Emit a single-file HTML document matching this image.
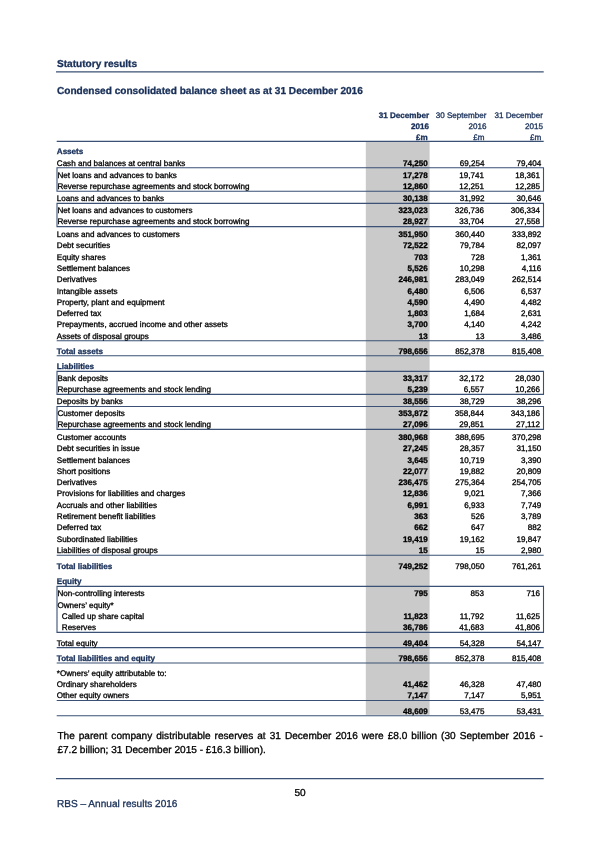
<!DOCTYPE html>
<html><head><meta charset="utf-8"><title>RBS – Annual results 2016</title>
<style>
html,body{margin:0;padding:0;background:#fff;}
body{width:600px;height:848px;position:relative;overflow:hidden;will-change:transform;text-rendering:geometricPrecision;font-family:"Liberation Sans",sans-serif;color:#000;}
.t{position:absolute;white-space:nowrap;font-size:8.09px;line-height:9px;height:9px;-webkit-text-stroke:0.30px #000;}
.l{left:56.8px;}
.r{text-align:right;left:0;}
.c1{width:427.7px;font-weight:bold;}
.c2{width:484.4px;}
.c3{width:541.3px;}
.n{color:#182f58;-webkit-text-stroke-color:#182f58;}
.b{font-weight:bold;}
svg{position:absolute;left:0;top:0;}
.h1{position:absolute;left:57.0px;font-size:10.08px;line-height:12px;height:12px;font-weight:bold;color:#182f58;white-space:nowrap;-webkit-text-stroke:0.30px #182f58;}
.p{position:absolute;left:57.4px;width:485.4px;font-size:10.08px;line-height:14px;text-align:justify;-webkit-text-stroke:0.30px #000;}
</style></head><body>
<div class="h1" style="top:59px">Statutory results</div>
<div class="h1" style="top:86px">Condensed consolidated balance sheet as at 31 December 2016</div>
<svg width="600" height="848" viewBox="0 0 600 848" shape-rendering="geometricPrecision"><rect x="365.8" y="141.4" width="63.8" height="573.5" fill="#cacaca"/><g stroke="#3a5075" stroke-width="1.10" fill="none">
<path d="M56.0 71.90H543.7"/>
<path d="M56.7 141.40H543.7"/>
<path d="M56.7 340.80H543.7"/>
<path d="M56.7 355.80H543.7"/>
<path d="M56.7 555.20H543.7"/>
<path d="M56.7 647.60H543.7"/>
<path d="M56.7 663.00H543.7"/>
<path d="M56.7 700.50H543.7"/>
<path d="M56.7 715.80H543.7"/>
<path d="M56.0 778.60H543.7"/>
<path d="M57.00 167.80H543.50V191.30H57.00Z"/>
<path d="M57.00 203.40H543.50V226.60H57.00Z"/>
<path d="M57.00 371.40H543.50V394.40H57.00Z"/>
<path d="M57.00 406.50H543.50V429.40H57.00Z"/>
<path d="M57.00 586.40H543.50V632.40H57.00Z"/>
</g></svg>
<div class="t r n b" style="top:111px;width:429.1px">31 December</div>
<div class="t r n" style="top:111px;width:486.5px">30 September</div>
<div class="t r n" style="top:111px;width:543.0px">31 December</div>
<div class="t r n b" style="top:122px;width:429.1px">2016</div>
<div class="t r n" style="top:122px;width:486.5px">2016</div>
<div class="t r n" style="top:122px;width:543.0px">2015</div>
<div class="t r n b" style="top:133px;width:427.7px">£m</div>
<div class="t r n" style="top:133px;width:484.4px">£m</div>
<div class="t r n" style="top:133px;width:541.3px">£m</div>
<div class="t l n b" style="top:147px;">Assets</div>
<div class="t l" style="top:159px;">Cash and balances at central banks</div>
<div class="t r c1" style="top:159px">74,250</div>
<div class="t r c2" style="top:159px">69,254</div>
<div class="t r c3" style="top:159px">79,404</div>
<div class="t l" style="top:171px;left:57.4px">Net loans and advances to banks</div>
<div class="t r c1" style="top:171px">17,278</div>
<div class="t r c2" style="top:171px;width:483.9px">19,741</div>
<div class="t r c3" style="top:171px;width:540.0px">18,361</div>
<div class="t l" style="top:182px;left:57.4px">Reverse repurchase agreements and stock borrowing</div>
<div class="t r c1" style="top:182px">12,860</div>
<div class="t r c2" style="top:182px;width:483.9px">12,251</div>
<div class="t r c3" style="top:182px;width:540.0px">12,285</div>
<div class="t l" style="top:194px;">Loans and advances to banks</div>
<div class="t r c1" style="top:194px">30,138</div>
<div class="t r c2" style="top:194px">31,992</div>
<div class="t r c3" style="top:194px">30,646</div>
<div class="t l" style="top:206px;left:57.4px">Net loans and advances to customers</div>
<div class="t r c1" style="top:206px">323,023</div>
<div class="t r c2" style="top:206px;width:483.9px">326,736</div>
<div class="t r c3" style="top:206px;width:540.0px">306,334</div>
<div class="t l" style="top:217px;left:57.4px">Reverse repurchase agreements and stock borrowing</div>
<div class="t r c1" style="top:217px">28,927</div>
<div class="t r c2" style="top:217px;width:483.9px">33,704</div>
<div class="t r c3" style="top:217px;width:540.0px">27,558</div>
<div class="t l" style="top:230px;">Loans and advances to customers</div>
<div class="t r c1" style="top:230px">351,950</div>
<div class="t r c2" style="top:230px">360,440</div>
<div class="t r c3" style="top:230px">333,892</div>
<div class="t l" style="top:241px;">Debt securities</div>
<div class="t r c1" style="top:241px">72,522</div>
<div class="t r c2" style="top:241px">79,784</div>
<div class="t r c3" style="top:241px">82,097</div>
<div class="t l" style="top:253px;">Equity shares</div>
<div class="t r c1" style="top:253px">703</div>
<div class="t r c2" style="top:253px">728</div>
<div class="t r c3" style="top:253px">1,361</div>
<div class="t l" style="top:264px;">Settlement balances</div>
<div class="t r c1" style="top:264px">5,526</div>
<div class="t r c2" style="top:264px">10,298</div>
<div class="t r c3" style="top:264px">4,116</div>
<div class="t l" style="top:275px;">Derivatives</div>
<div class="t r c1" style="top:275px">246,981</div>
<div class="t r c2" style="top:275px">283,049</div>
<div class="t r c3" style="top:275px">262,514</div>
<div class="t l" style="top:287px;">Intangible assets</div>
<div class="t r c1" style="top:287px">6,480</div>
<div class="t r c2" style="top:287px">6,506</div>
<div class="t r c3" style="top:287px">6,537</div>
<div class="t l" style="top:298px;">Property, plant and equipment</div>
<div class="t r c1" style="top:298px">4,590</div>
<div class="t r c2" style="top:298px">4,490</div>
<div class="t r c3" style="top:298px">4,482</div>
<div class="t l" style="top:309px;">Deferred tax</div>
<div class="t r c1" style="top:309px">1,803</div>
<div class="t r c2" style="top:309px">1,684</div>
<div class="t r c3" style="top:309px">2,631</div>
<div class="t l" style="top:320px;">Prepayments, accrued income and other assets</div>
<div class="t r c1" style="top:320px">3,700</div>
<div class="t r c2" style="top:320px">4,140</div>
<div class="t r c3" style="top:320px">4,242</div>
<div class="t l" style="top:332px;">Assets of disposal groups</div>
<div class="t r c1" style="top:332px">13</div>
<div class="t r c2" style="top:332px">13</div>
<div class="t r c3" style="top:332px">3,486</div>
<div class="t l n b" style="top:347px;">Total assets</div>
<div class="t r c1" style="top:347px">798,656</div>
<div class="t r c2" style="top:347px">852,378</div>
<div class="t r c3" style="top:347px">815,408</div>
<div class="t l n b" style="top:362px;">Liabilities</div>
<div class="t l" style="top:374px;left:57.4px">Bank deposits</div>
<div class="t r c1" style="top:374px">33,317</div>
<div class="t r c2" style="top:374px;width:483.9px">32,172</div>
<div class="t r c3" style="top:374px;width:540.0px">28,030</div>
<div class="t l" style="top:385px;left:57.4px">Repurchase agreements and stock lending</div>
<div class="t r c1" style="top:385px">5,239</div>
<div class="t r c2" style="top:385px;width:483.9px">6,557</div>
<div class="t r c3" style="top:385px;width:540.0px">10,266</div>
<div class="t l" style="top:397px;">Deposits by banks</div>
<div class="t r c1" style="top:397px">38,556</div>
<div class="t r c2" style="top:397px">38,729</div>
<div class="t r c3" style="top:397px">38,296</div>
<div class="t l" style="top:409px;left:57.4px">Customer deposits</div>
<div class="t r c1" style="top:409px">353,872</div>
<div class="t r c2" style="top:409px;width:483.9px">358,844</div>
<div class="t r c3" style="top:409px;width:540.0px">343,186</div>
<div class="t l" style="top:420px;left:57.4px">Repurchase agreements and stock lending</div>
<div class="t r c1" style="top:420px">27,096</div>
<div class="t r c2" style="top:420px;width:483.9px">29,851</div>
<div class="t r c3" style="top:420px;width:540.0px">27,112</div>
<div class="t l" style="top:433px;">Customer accounts</div>
<div class="t r c1" style="top:433px">380,968</div>
<div class="t r c2" style="top:433px">388,695</div>
<div class="t r c3" style="top:433px">370,298</div>
<div class="t l" style="top:444px;">Debt securities in issue</div>
<div class="t r c1" style="top:444px">27,245</div>
<div class="t r c2" style="top:444px">28,357</div>
<div class="t r c3" style="top:444px">31,150</div>
<div class="t l" style="top:456px;">Settlement balances</div>
<div class="t r c1" style="top:456px">3,645</div>
<div class="t r c2" style="top:456px">10,719</div>
<div class="t r c3" style="top:456px">3,390</div>
<div class="t l" style="top:467px;">Short positions</div>
<div class="t r c1" style="top:467px">22,077</div>
<div class="t r c2" style="top:467px">19,882</div>
<div class="t r c3" style="top:467px">20,809</div>
<div class="t l" style="top:478px;">Derivatives</div>
<div class="t r c1" style="top:478px">236,475</div>
<div class="t r c2" style="top:478px">275,364</div>
<div class="t r c3" style="top:478px">254,705</div>
<div class="t l" style="top:489px;">Provisions for liabilities and charges</div>
<div class="t r c1" style="top:489px">12,836</div>
<div class="t r c2" style="top:489px">9,021</div>
<div class="t r c3" style="top:489px">7,366</div>
<div class="t l" style="top:501px;">Accruals and other liabilities</div>
<div class="t r c1" style="top:501px">6,991</div>
<div class="t r c2" style="top:501px">6,933</div>
<div class="t r c3" style="top:501px">7,749</div>
<div class="t l" style="top:512px;">Retirement benefit liabilities</div>
<div class="t r c1" style="top:512px">363</div>
<div class="t r c2" style="top:512px">526</div>
<div class="t r c3" style="top:512px">3,789</div>
<div class="t l" style="top:523px;">Deferred tax</div>
<div class="t r c1" style="top:523px">662</div>
<div class="t r c2" style="top:523px">647</div>
<div class="t r c3" style="top:523px">882</div>
<div class="t l" style="top:535px;">Subordinated liabilities</div>
<div class="t r c1" style="top:535px">19,419</div>
<div class="t r c2" style="top:535px">19,162</div>
<div class="t r c3" style="top:535px">19,847</div>
<div class="t l" style="top:546px;">Liabilities of disposal groups</div>
<div class="t r c1" style="top:546px">15</div>
<div class="t r c2" style="top:546px">15</div>
<div class="t r c3" style="top:546px">2,980</div>
<div class="t l n b" style="top:562px;">Total liabilities</div>
<div class="t r c1" style="top:562px">749,252</div>
<div class="t r c2" style="top:562px">798,050</div>
<div class="t r c3" style="top:562px">761,261</div>
<div class="t l n b" style="top:577px;">Equity</div>
<div class="t l" style="top:589px;left:57.4px">Non-controlling interests</div>
<div class="t r c1" style="top:589px">795</div>
<div class="t r c2" style="top:589px;width:483.9px">853</div>
<div class="t r c3" style="top:589px;width:540.0px">716</div>
<div class="t l" style="top:601px;left:57.4px">Owners’ equity*</div>
<div class="t l" style="top:612px;left:61.8px">Called up share capital</div>
<div class="t r c1" style="top:612px">11,823</div>
<div class="t r c2" style="top:612px;width:483.9px">11,792</div>
<div class="t r c3" style="top:612px;width:540.0px">11,625</div>
<div class="t l" style="top:623px;left:61.8px">Reserves</div>
<div class="t r c1" style="top:623px">36,786</div>
<div class="t r c2" style="top:623px;width:483.9px">41,683</div>
<div class="t r c3" style="top:623px;width:540.0px">41,806</div>
<div class="t l" style="top:639px;">Total equity</div>
<div class="t r c1" style="top:639px">49,404</div>
<div class="t r c2" style="top:639px">54,328</div>
<div class="t r c3" style="top:639px">54,147</div>
<div class="t l n b" style="top:654px;">Total liabilities and equity</div>
<div class="t r c1" style="top:654px">798,656</div>
<div class="t r c2" style="top:654px">852,378</div>
<div class="t r c3" style="top:654px">815,408</div>
<div class="t l" style="top:669px;">*Owners’ equity attributable to:</div>
<div class="t l" style="top:680px;">Ordinary shareholders</div>
<div class="t r c1" style="top:680px">41,462</div>
<div class="t r c2" style="top:680px">46,328</div>
<div class="t r c3" style="top:680px">47,480</div>
<div class="t l" style="top:691px;">Other equity owners</div>
<div class="t r c1" style="top:691px">7,147</div>
<div class="t r c2" style="top:691px">7,147</div>
<div class="t r c3" style="top:691px">5,951</div>
<div class="t r c1" style="top:707px">48,609</div>
<div class="t r c2" style="top:707px">53,475</div>
<div class="t r c3" style="top:707px">53,431</div>
<div class="p" style="top:729.5px">The parent company distributable reserves at 31 December 2016 were £8.0 billion (30 September 2016 - £7.2 billion; 31 December 2015 - £16.3 billion).</div>
<div class="h1" style="top:788px;left:294.4px;color:#000;font-weight:normal;-webkit-text-stroke-color:#000">50</div>
<div class="h1" style="top:799px;font-weight:normal">RBS – Annual results 2016</div>
</body></html>
